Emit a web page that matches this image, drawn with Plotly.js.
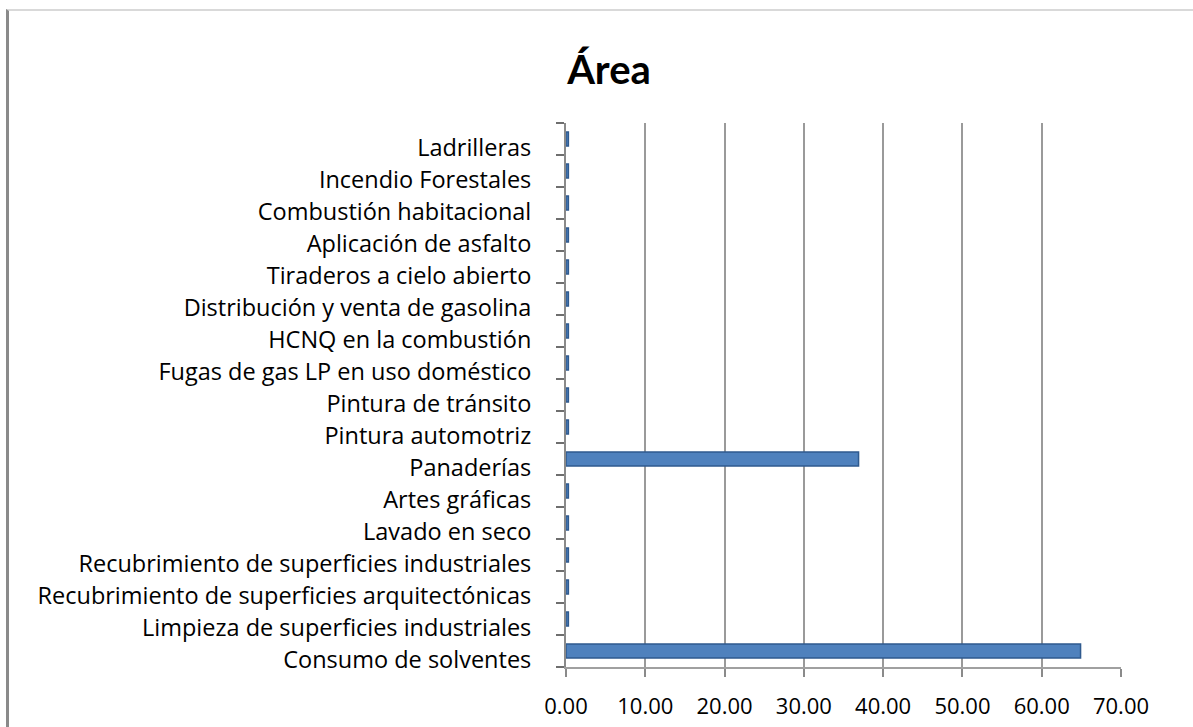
<!DOCTYPE html>
<html>
<head>
<meta charset="utf-8">
<script src="https://cdn.plot.ly/plotly-3.0.1.min.js"></script>
<style>
    body { margin: 0; background: #fff; }
    #chart { width: 1193px; height: 727px; }
    /* frame of the chart area, as in the original sheet */
    #frame {
        position: absolute; left: 6px; top: 9px; width: 1187px; height: 718px;
        border-left: 3px solid #8a8a8a; border-top: 2px solid #d9d9d9;
        pointer-events: none;
    }
</style>
</head>
<body>
<div id="chart"></div>
<div id="frame"></div>
<script>
// categories listed bottom -> top (plotly draws the first one at the bottom)
const categories = [
    'Consumo de solventes',
    'Limpieza de superficies industriales',
    'Recubrimiento de superficies arquitectónicas',
    'Recubrimiento de superficies industriales',
    'Lavado en seco',
    'Artes gráficas',
    'Panaderías',
    'Pintura automotriz',
    'Pintura de tránsito',
    'Fugas de gas LP en uso doméstico',
    'HCNQ en la combustión',
    'Distribución y venta de gasolina',
    'Tiraderos a cielo abierto',
    'Aplicación de asfalto',
    'Combustión habitacional',
    'Incendio Forestales',
    'Ladrilleras'
];

// values (tiny stubs are ~0.3)
const values = [64.9, 0.3, 0.3, 0.3, 0.3, 0.3, 36.9, 0.3, 0.3, 0.3, 0.3, 0.3, 0.3, 0.3, 0.3, 0.3, 0.3];

const xTicks = [0, 10, 20, 30, 40, 50, 60, 70];
const xTickLabels = ['0.00', '10.00', '20.00', '30.00', '40.00', '50.00', '60.00', '70.00'];

const font = '"Open Sans", "Liberation Sans", sans-serif';

let trace = {
    type: 'bar',
    orientation: 'h',
    y: categories,
    x: values,
    marker: { color: '#4f81bd', line: { color: '#2f5a8f', width: 1.5 } },
    hoverinfo: 'x+y'
};

let layout = {
    width: 1193,
    height: 727,
    paper_bgcolor: '#ffffff',
    plot_bgcolor: '#ffffff',
    margin: { l: 566, r: 72, t: 123, b: 60 },
    showlegend: false,
    bargap: 0.56,
    font: { family: font, size: 22, color: '#000' },
    title: {
        text: '<b>Área</b>',
        font: { family: 'Lato, "Open Sans", sans-serif', size: 40, color: '#000' },
        xref: 'container', yref: 'container',
        x: 609 / 1193, y: 1 - 70 / 727,
        xanchor: 'center', yanchor: 'middle'
    },
    xaxis: {
        range: [0, 70],
        tickvals: xTicks,
        ticktext: xTickLabels,
        ticks: 'outside',
        ticklen: 8,
        tickcolor: '#8a8a8a',
        tickwidth: 2,
        showline: true,
        linecolor: '#a0a0a0',
        linewidth: 2,
        showgrid: true,
        gridcolor: '#9a9a9a',
        gridwidth: 2,
        zeroline: false,
        ticklabelstandoff: 11,
        tickfont: { family: font, size: 22, color: '#000' },
        fixedrange: true
    },
    yaxis: {
        type: 'category',
        tickson: 'boundaries',
        ticks: 'outside',
        ticklen: 8,
        tickcolor: '#6e6e6e',
        tickwidth: 2,
        showline: true,
        linecolor: '#8a8a8a',
        linewidth: 2,
        showgrid: false,
        ticklabelstandoff: 28,
        ticklabelshift: 9,
        tickfont: { family: font, size: 23.5, color: '#000' },
        fixedrange: true
    }
};

Plotly.newPlot('chart', [trace], layout, { displayModeBar: false, staticPlot: true });
</script>
</body>
</html>
